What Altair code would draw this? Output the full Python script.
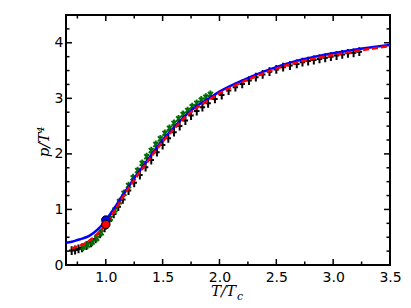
import altair as alt
import pandas as pd

# ---- data ----
blue_x = [0.65, 0.70, 0.75, 0.80, 0.85, 0.90, 0.95, 1.00, 1.05, 1.10, 1.15, 1.20, 1.25, 1.30,
          1.40, 1.50, 1.60, 1.70, 1.80, 1.90, 2.00, 2.20, 2.40, 2.60, 2.80, 3.00, 3.20, 3.50]
blue_y = [0.40, 0.42, 0.45, 0.48, 0.52, 0.59, 0.68, 0.80, 0.95, 1.10, 1.26, 1.41, 1.56, 1.70,
          1.98, 2.25, 2.48, 2.69, 2.86, 2.99, 3.12, 3.32, 3.49, 3.63, 3.73, 3.81, 3.88, 3.96]

red_x = [0.70, 0.75, 0.80, 0.85, 0.90, 0.95, 1.00, 1.05, 1.10, 1.15, 1.20, 1.25, 1.30,
         1.40, 1.50, 1.60, 1.70, 1.80, 1.90, 2.00, 2.20, 2.40, 2.60, 2.80, 3.00, 3.20, 3.50]
red_y = [0.30, 0.33, 0.37, 0.43, 0.51, 0.61, 0.73, 0.89, 1.05, 1.22, 1.38, 1.53, 1.67,
         1.95, 2.22, 2.45, 2.66, 2.83, 2.96, 3.09, 3.29, 3.46, 3.60, 3.70, 3.78, 3.85, 3.94]

black_x = [0.70, 0.73, 0.76, 0.79, 0.83, 0.87, 0.91, 0.95, 0.99, 1.03, 1.07, 1.11, 1.15, 1.20,
           1.25, 1.30, 1.35, 1.40, 1.45, 1.50, 1.55, 1.60, 1.65, 1.70, 1.75, 1.80, 1.85, 1.90,
           1.96, 2.02, 2.08, 2.14, 2.20, 2.26, 2.32, 2.38, 2.44, 2.50, 2.56, 2.62, 2.68, 2.73,
           2.78, 2.83, 2.88, 2.93, 2.98, 3.03, 3.08, 3.13, 3.18, 3.23]
black_y = [0.26, 0.27, 0.29, 0.31, 0.35, 0.40, 0.47, 0.56, 0.67, 0.79, 0.92, 1.05, 1.18, 1.34,
           1.48, 1.62, 1.76, 1.89, 2.03, 2.16, 2.28, 2.39, 2.50, 2.60, 2.69, 2.77, 2.84, 2.91,
           2.99, 3.06, 3.14, 3.20, 3.26, 3.32, 3.38, 3.43, 3.48, 3.52, 3.56, 3.59, 3.62, 3.65,
           3.67, 3.69, 3.71, 3.73, 3.75, 3.77, 3.79, 3.81, 3.82, 3.84]

green_x = [0.80, 0.84, 0.88, 0.92, 0.96, 1.00, 1.04, 1.08, 1.12, 1.16, 1.20, 1.24, 1.28, 1.32,
           1.36, 1.40, 1.44, 1.48, 1.52, 1.56, 1.60, 1.64, 1.68, 1.72, 1.76, 1.80, 1.84, 1.88, 1.92]
green_y = [0.32, 0.36, 0.41, 0.48, 0.58, 0.70, 0.84, 0.99, 1.14, 1.29, 1.43, 1.57, 1.70, 1.83,
           1.95, 2.06, 2.17, 2.27, 2.37, 2.46, 2.55, 2.63, 2.71, 2.78, 2.85, 2.91, 2.97, 3.02, 3.07]

dot_x = [1.0, 1.0]
dot_y = [0.81, 0.73]
dot_c = ["#0000ff", "#ff0000"]

x_major = [1.0, 1.5, 2.0, 2.5, 3.0, 3.5]
x_minor = [0.75, 1.25, 1.75, 2.25, 2.75, 3.25]
y_major = [0, 1, 2, 3, 4]
y_minor = [0.25, 0.5, 0.75, 1.25, 1.5, 1.75, 2.25, 2.5, 2.75, 3.25, 3.5, 3.75, 4.25]

W, H = 324, 250

xs = alt.Scale(domain=[0.65, 3.5], nice=False, zero=False)
ys = alt.Scale(domain=[0, 4.5], nice=False, zero=False)
xaxis = alt.Axis(values=x_major, format=".1f", ticks=False, domain=False, grid=False,
                 title=None, labelPadding=5, labelFlush=False, labelOverlap=False)
yaxis = alt.Axis(values=y_major, format="d", ticks=False, domain=False, grid=False,
                 title=None, labelPadding=3, labelFlush=False, labelOverlap=False)


def X(f):
    return alt.X(f, type="quantitative", scale=xs, axis=xaxis)


def Y(f):
    return alt.Y(f, type="quantitative", scale=ys, axis=yaxis)


black = pd.DataFrame({"x": black_x, "y": black_y})
green = pd.DataFrame({"x": green_x, "y": green_y})
blue = pd.DataFrame({"x": blue_x, "y": blue_y})
red = pd.DataFrame({"x": red_x, "y": red_y})
dots = pd.DataFrame({"x": dot_x, "y": dot_y, "c": dot_c})

black_pts = alt.Chart(black).mark_point(
    shape="M-1,0L1,0M0,-1.6L0,1.6", size=30, filled=False, stroke="black", strokeWidth=2,
    opacity=1
).encode(x=X("x"), y=Y("y"))

green_pts = alt.Chart(green).mark_point(
    shape="M-1,-1L1,1M-1,1L1,-1M0,-1.6L0,1.6", size=24, filled=False, stroke="#006e00",
    strokeWidth=1.9, opacity=1
).encode(x=X("x"), y=Y("y"))

blue_line = alt.Chart(blue).mark_line(
    color="#0000ff", strokeWidth=2.5, interpolate="monotone"
).encode(x=X("x"), y=Y("y"))

red_line = alt.Chart(red).mark_line(
    color="#ff0000", strokeWidth=2.5, strokeDash=[6, 3], interpolate="monotone"
).encode(x=X("x"), y=Y("y"))

dot_pts = alt.Chart(dots).mark_point(
    shape="circle", size=70, filled=True, stroke="black", strokeWidth=1, opacity=1
).encode(x=X("x"), y=Y("y"), color=alt.Color("c:N", scale=None))


def xticks(vals, ln):
    d = pd.DataFrame({"t": vals})
    bot = alt.Chart(d).mark_rule(color="black", strokeWidth=1.5).encode(
        x=X("t"), y=alt.value(H), y2=alt.value(H - ln))
    top = alt.Chart(d).mark_rule(color="black", strokeWidth=1.5).encode(
        x=X("t"), y=alt.value(0), y2=alt.value(ln))
    return [bot, top]


def yticks(vals, ln):
    d = pd.DataFrame({"t": vals})
    lft = alt.Chart(d).mark_rule(color="black", strokeWidth=1.5).encode(
        y=Y("t"), x=alt.value(0), x2=alt.value(ln))
    rgt = alt.Chart(d).mark_rule(color="black", strokeWidth=1.5).encode(
        y=Y("t"), x=alt.value(W), x2=alt.value(W - ln))
    return [lft, rgt]


one = pd.DataFrame({"a": [0]})
xt1 = alt.Chart(one).mark_text(text="T/T", font="DejaVu Serif", fontStyle="italic",
                               fontSize=15, align="right", baseline="alphabetic",
                               color="black").encode(x=alt.value(170), y=alt.value(281))
xt2 = alt.Chart(one).mark_text(text="c", font="DejaVu Serif", fontStyle="italic",
                               fontSize=11, align="left", baseline="alphabetic",
                               color="black").encode(x=alt.value(171), y=alt.value(285))
yt = alt.Chart(one).mark_text(text="p/T⁴", font="DejaVu Serif", fontStyle="italic",
                              fontSize=15, align="center", baseline="middle", angle=270,
                              color="black").encode(x=alt.value(-22), y=alt.value(127))

layers = (xticks(x_major, 6) + xticks(x_minor, 3.5) + yticks(y_major, 6) + yticks(y_minor, 3.5)
          + [black_pts, green_pts, blue_line, red_line, dot_pts, xt1, xt2, yt])

chart = alt.layer(*layers).properties(
    width=W, height=H,
    autosize=alt.AutoSizeParams(type="none"),
    padding={"left": 58, "top": 7, "right": 13, "bottom": 45},
).configure_view(stroke="black", strokeWidth=2).configure_axis(
    labelFont="DejaVu Sans", labelFontSize=14, labelColor="black"
)

chart.save("out.html", embed_options={"renderer": "svg", "actions": False})
